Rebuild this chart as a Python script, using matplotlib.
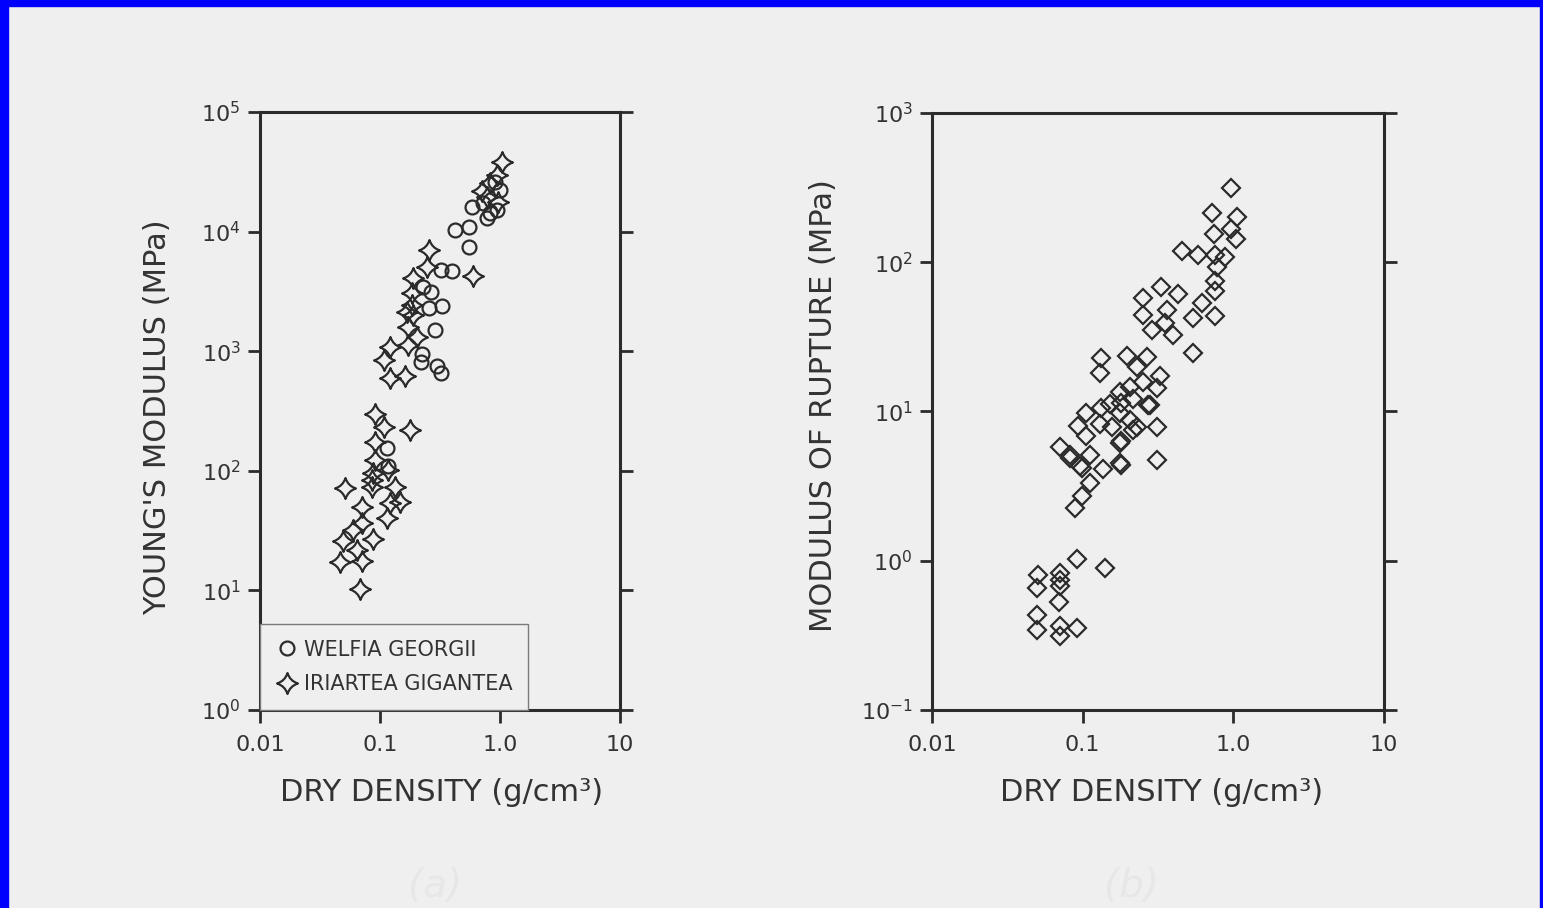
import matplotlib
matplotlib.use('Agg')
import matplotlib.pyplot as plt
from matplotlib.path import Path
from matplotlib.patches import Rectangle

# (a) Young's modulus vs dry density
welfia_density = [0.908, 1.0, 0.825, 0.774, 0.581, 0.938, 0.721, 0.422, 0.555, 0.555,
                  0.322, 0.395, 0.227, 0.265, 0.327, 0.254, 0.287, 0.223, 0.219, 0.301,
                  0.322, 0.114, 0.117]
welfia_modulus = [26100, 22300, 14300, 13000, 16100, 15200, 17300, 10300, 10900, 7500,
                  4730, 4640, 3460, 3150, 2390, 2280, 1500, 948, 812, 752,
                  651, 155, 110]

iriartea_density = [1.033, 0.938, 0.825, 0.708, 0.962, 0.780, 0.256, 0.599, 0.188, 0.248,
                    0.184, 0.184, 0.188, 0.167, 0.172, 0.202, 0.172, 0.122, 0.107, 0.121,
                    0.163, 0.0909, 0.107, 0.178, 0.0909, 0.0909, 0.117, 0.0875, 0.0853, 0.0511,
                    0.133, 0.0853, 0.0704, 0.121, 0.147, 0.114, 0.0704, 0.0599, 0.0494, 0.0881,
                    0.064, 0.0464, 0.0704, 0.0681]
iriartea_modulus = [37800, 29700, 25500, 21800, 17700, 19500, 7020, 4220, 4090, 5090,
                    3070, 2430, 2010, 2140, 1600, 1320, 1130, 1090, 844, 597,
                    621, 301, 234, 219, 175, 123, 102, 95, 83.8, 71.4,
                    73.6, 73.6, 50.1, 53.5, 55.2, 40.3, 36.4, 32, 25.9, 26.9,
                    21.8, 17.4, 17.6, 10.3]

# (b) modulus of rupture vs dry density
rupture_density = [0.959, 0.727, 1.056, 0.964, 0.743, 1.040, 0.454, 0.585, 0.755, 0.880,
                   0.775, 0.755, 0.755, 0.331, 0.431, 0.252, 0.616, 0.361, 0.542, 0.755,
                   0.252, 0.287, 0.399, 0.352, 0.542, 0.132, 0.130, 0.196, 0.266, 0.228,
                   0.326, 0.252, 0.310, 0.206, 0.177, 0.217, 0.280, 0.132, 0.152, 0.106,
                   0.177, 0.206, 0.0935, 0.130, 0.156, 0.228, 0.310, 0.106, 0.177, 0.0707,
                   0.0824, 0.112, 0.096, 0.177, 0.314, 0.137, 0.112, 0.0985, 0.0889, 0.0912,
                   0.141, 0.0508, 0.0495, 0.0707, 0.0707, 0.0707, 0.070, 0.0495, 0.0495, 0.0707,
                   0.0707, 0.0912, 0.181, 0.217, 0.181, 0.0985, 0.181, 0.0824, 0.272]
rupture_modulus = [313, 215, 202, 166, 154, 143, 119, 111, 112, 109,
                   93, 75, 64.3, 67.9, 61.4, 57.5, 53.2, 48, 42.2, 43.4,
                   44.4, 35.3, 32.6, 39.1, 24.6, 22.8, 18.1, 23.4, 23.1, 20.0,
                   17.2, 15.7, 14.4, 14.5, 13.6, 12.2, 11.1, 10.5, 11.3, 9.76,
                   9.76, 8.80, 7.94, 8.27, 7.84, 7.84, 7.84, 6.80, 6.14, 5.76,
                   5.13, 5.13, 4.28, 4.51, 4.75, 4.10, 3.32, 2.70, 2.25, 1.02,
                   0.894, 0.806, 0.656, 0.827, 0.746, 0.673, 0.526, 0.435, 0.345, 0.363,
                   0.315, 0.354, 11.4, 7.54, 6.30, 4.18, 4.40, 4.87, 11.1]

density_ticks = [0.01, 0.1, 1.0, 10]
density_labels = ['0.01', '0.1', '1.0', '10']
young_ticks = [1, 10, 100, 1e3, 1e4, 1e5]
rupture_ticks = [0.1, 1, 10, 100, 1000]

paper = '#efefef'
ink = '#2b2b2b'
text_col = '#333333'

plt.rcParams['font.family'] = ['DejaVu Sans']

# four-pointed star with concave sides
star = Path([(0, 1), (0.24, 0.24), (1, 0), (0.24, -0.24), (0, -1), (-0.24, -0.24),
             (-1, 0), (-0.24, 0.24), (0, 1), (0, 1)],
            [Path.MOVETO] + [Path.CURVE3] * 8 + [Path.CLOSEPOLY])

fig = plt.figure(figsize=(15.43, 9.08), dpi=100, facecolor=paper)
ax1 = fig.add_axes([0.1685, 0.2181, 0.2333, 0.6586])
ax2 = fig.add_axes([0.6040, 0.2181, 0.2929, 0.6575])


def style(ax, yticks):
    ax.set_xscale('log')
    ax.set_yscale('log')
    ax.set_facecolor(paper)
    for s in ax.spines.values():
        s.set_linewidth(2.2)
        s.set_color(ink)
    ax.set_xlim(0.01, 10)
    ax.set_ylim(yticks[0], yticks[-1])
    ax.set_xticks(density_ticks, density_labels)
    ax.set_yticks(yticks)
    ax.minorticks_off()
    ax.tick_params(which='major', direction='out', length=9, width=2, color=ink,
                   labelsize=16, labelcolor=text_col, left=True, right=True,
                   top=False, bottom=True, pad=5)
    ax.tick_params(axis='x', pad=9)


style(ax1, young_ticks)
style(ax2, rupture_ticks)

ax1.plot(welfia_density, welfia_modulus, 'o', ms=10, mfc='none', mec=ink, mew=1.6,
         label='WELFIA GEORGII')
ax1.plot(iriartea_density, iriartea_modulus, marker=star, ls='none', ms=15, mfc='none',
         mec=ink, mew=1.6, label='IRIARTEA GIGANTEA')
ax2.plot(rupture_density, rupture_modulus, 'D', ms=9, mfc='none', mec=ink, mew=1.6)

leg = ax1.legend(loc='lower left', bbox_to_anchor=(0, 0), borderaxespad=0, fancybox=False,
                 edgecolor='#7a7a7a', facecolor=paper, framealpha=1, fontsize=15,
                 handletextpad=0.25, borderpad=0.75, labelspacing=0.7, handlelength=1.1)
leg.get_frame().set_linewidth(1.0)
for t in leg.get_texts():
    t.set_color(text_col)

ax1.set_xlabel('DRY DENSITY (g/cm³)', fontsize=22, color=text_col)
ax2.set_xlabel('DRY DENSITY (g/cm³)', fontsize=22, color=text_col)
ax1.set_ylabel("YOUNG'S MODULUS (MPa)", fontsize=22, color=text_col)
ax2.set_ylabel('MODULUS OF RUPTURE (MPa)', fontsize=22, color=text_col)
ax1.xaxis.set_label_coords(0.504, -0.114)
ax2.xaxis.set_label_coords(0.509, -0.114)
ax1.yaxis.set_label_coords(-0.244, 0.49)
ax2.yaxis.set_label_coords(-0.208, 0.51)

# faint pencil marks under the panels
fig.text(0.282, 0.012, '(a)', fontsize=28, color='#e7e7e7', style='italic', ha='center')
fig.text(0.733, 0.012, '(b)', fontsize=28, color='#e7e7e7', style='italic', ha='center')

# blue frame of the scan
blue = '#0000fe'
fig.patches.extend([
    Rectangle((0, 0), 8 / 1543, 1, transform=fig.transFigure, color=blue, zorder=10),
    Rectangle((0, 1 - 6 / 908), 1, 6 / 908, transform=fig.transFigure, color=blue, zorder=10),
    Rectangle((1 - 3 / 1543, 0), 3 / 1543, 1, transform=fig.transFigure, color=blue, zorder=10),
])

fig.savefig('out.png', dpi=100, facecolor=paper)
